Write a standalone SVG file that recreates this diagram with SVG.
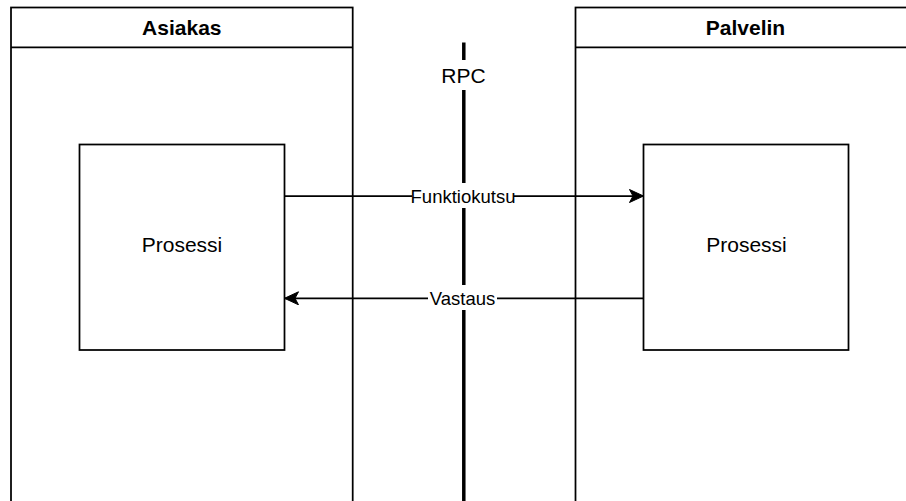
<svg xmlns="http://www.w3.org/2000/svg" width="906" height="501" viewBox="0 0 906 501">
  <defs>
    <style>
      .lane { fill: #ffffff; stroke: #000000; stroke-width: 1.75; }
      .box { fill: #ffffff; stroke: #000000; stroke-width: 1.75; }
      .title { font-family: "Liberation Sans", Arial, sans-serif; font-size: 21px; font-weight: bold; fill: #000000; text-anchor: middle; }
      .label { font-family: "Liberation Sans", Arial, sans-serif; font-size: 21px; fill: #000000; text-anchor: middle; }
      .elabel { font-family: "Liberation Sans", Arial, sans-serif; font-size: 18.5px; fill: #000000; text-anchor: middle; }
      .edge { fill: none; stroke: #000000; stroke-width: 1.75; }
      .rpc { fill: none; stroke: #000000; stroke-width: 3.5; }
      .bg { fill: #ffffff; stroke: none; }
    </style>
    <marker id="arrow" markerWidth="16" markerHeight="14" refX="15" refY="7" orient="auto" markerUnits="userSpaceOnUse">
      <path d="M15,7 L1,0.5 L4.5,7 L1,13.5 Z" fill="#000000" stroke="#000000" stroke-width="1"/>
    </marker>
  </defs>
  <rect x="0" y="0" width="906" height="501" fill="#ffffff"/>

  <g id="lane-asiakas">
    <rect class="lane" x="11" y="7.5" width="341.7" height="520"/>
    <line x1="11" y1="47.3" x2="352.7" y2="47.3" stroke="#000000" stroke-width="1.75"/>
    <text class="title" x="181.8" y="35">Asiakas</text>
  </g>

  <g id="lane-palvelin">
    <rect class="lane" x="575.5" y="7.5" width="341.7" height="520"/>
    <line x1="575.5" y1="47.3" x2="917.2" y2="47.3" stroke="#000000" stroke-width="1.75"/>
    <text class="title" x="745.5" y="35">Palvelin</text>
  </g>

  <g id="prosessi-asiakas">
    <rect class="box" x="79.5" y="144.5" width="205" height="205.5"/>
    <text class="label" x="182" y="252">Prosessi</text>
  </g>

  <g id="prosessi-palvelin">
    <rect class="box" x="643.5" y="144.5" width="205" height="205.5"/>
    <text class="label" x="746.5" y="252">Prosessi</text>
  </g>

  <g id="rpc">
    <line class="rpc" x1="463.8" y1="42.5" x2="463.8" y2="510"/>
    <rect class="bg" x="440" y="60" width="48" height="30"/>
    <text class="label" x="463.5" y="83">RPC</text>
  </g>

  <g id="connectors">
    <g id="edge-funktiokutsu">
      <line class="edge" x1="284.5" y1="196" x2="643.5" y2="196" marker-end="url(#arrow)"/>
      <rect class="bg" x="412" y="183" width="102" height="25"/>
      <text class="elabel" x="463" y="202.5">Funktiokutsu</text>
    </g>
    <g id="edge-vastaus">
      <line class="edge" x1="643.5" y1="298.3" x2="284.5" y2="298.3" marker-end="url(#arrow)"/>
      <rect class="bg" x="428" y="285" width="69" height="25"/>
      <text class="elabel" x="462.5" y="304.8">Vastaus</text>
    </g>
  </g>
</svg>
